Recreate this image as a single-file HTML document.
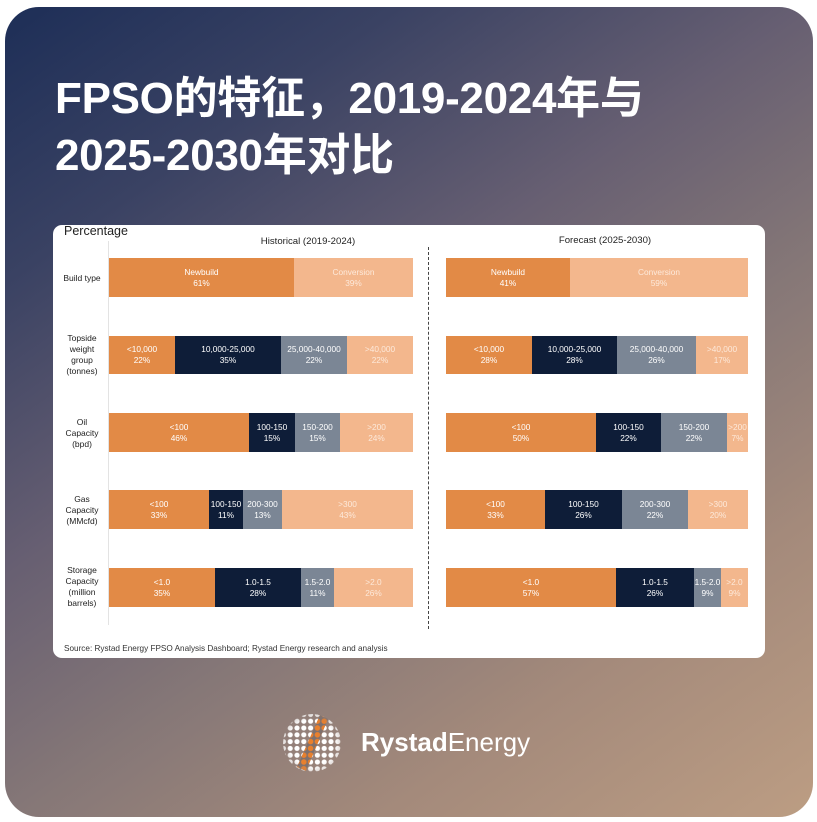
<!DOCTYPE html>
<html>
<head>
<meta charset="utf-8">
<style>
*{margin:0;padding:0;box-sizing:border-box;}
html,body{width:817px;height:822px;overflow:hidden;background:#fff;}
body{position:relative;font-family:"Liberation Sans","Noto Sans CJK SC",sans-serif;}
.card{position:absolute;left:5px;top:7px;width:808px;height:810px;border-radius:34px;
background:linear-gradient(145deg,#1D2E57 0%,#3a4263 20%,#675f72 41%,#857777 59%,#a48a7b 78%,#BC9D83 100%);}
.title{position:absolute;left:55px;top:70px;color:#fff;font-size:44px;line-height:57px;font-weight:bold;
font-family:"Liberation Sans","Noto Sans CJK SC",sans-serif;white-space:nowrap;letter-spacing:-0.3px;}
.panel{position:absolute;left:53px;top:225px;width:712px;height:433px;background:#fff;border-radius:9px;}
.abs{position:absolute;}
.seg{position:absolute;display:flex;flex-direction:column;justify-content:center;align-items:center;
color:#fff;font-size:8.3px;line-height:11px;white-space:nowrap;overflow:visible;}
.o{background:#E28A46;}
.n{background:#0E1D38;}
.g{background:#7B8695;}
.p{background:#F3B78D;color:#fde9da;}
.rl{position:absolute;left:56px;width:52px;display:flex;flex-direction:column;align-items:center;justify-content:center;
font-size:8.5px;line-height:11px;color:#222;text-align:center;white-space:nowrap;}
</style>
</head>
<body>
<div class="card"></div>
<div class="title">FPSO的特征，2019-2024年与<br>2025-2030年对比</div>

<div class="panel"></div>
<div class="abs" style="left:64px;top:223px;font-size:12.5px;line-height:16px;color:#222;">Percentage</div>
<div class="abs" style="left:208px;width:200px;top:236px;font-size:9.6px;line-height:12px;color:#222;text-align:center;">Historical (2019-2024)</div>
<div class="abs" style="left:505px;width:200px;top:235px;font-size:9.6px;line-height:12px;color:#222;text-align:center;">Forecast (2025-2030)</div>

<div class="abs" style="left:108px;top:241px;width:1px;height:384px;background:#e3e3e3;"></div>
<div class="abs" style="left:428px;top:247px;width:0;height:382px;border-left:1.5px dashed #444;"></div>

<!-- Row labels -->
<div class="rl" style="top:268px;height:20px;">Build type</div>
<div class="rl" style="top:332px;height:46px;">Topside<br>weight<br>group<br>(tonnes)</div>
<div class="rl" style="top:416px;height:34px;">Oil<br>Capacity<br>(bpd)</div>
<div class="rl" style="top:493px;height:34px;">Gas<br>Capacity<br>(MMcfd)</div>
<div class="rl" style="top:565px;height:44px;">Storage<br>Capacity<br>(million<br>barrels)</div>

<!-- Left bars -->
<div class="seg o" style="left:109px;top:258px;width:185px;height:39px;"><span>Newbuild</span><span>61%</span></div>
<div class="seg p" style="left:294px;top:258px;width:119px;height:39px;"><span>Conversion</span><span>39%</span></div>

<div class="seg o" style="left:109px;top:336px;width:66px;height:38px;"><span>&lt;10,000</span><span>22%</span></div>
<div class="seg n" style="left:175px;top:336px;width:106px;height:38px;"><span>10,000-25,000</span><span>35%</span></div>
<div class="seg g" style="left:281px;top:336px;width:66px;height:38px;"><span>25,000-40,000</span><span>22%</span></div>
<div class="seg p" style="left:347px;top:336px;width:66px;height:38px;"><span>&gt;40,000</span><span>22%</span></div>

<div class="seg o" style="left:109px;top:413px;width:140px;height:39px;"><span>&lt;100</span><span>46%</span></div>
<div class="seg n" style="left:249px;top:413px;width:46px;height:39px;"><span>100-150</span><span>15%</span></div>
<div class="seg g" style="left:295px;top:413px;width:45px;height:39px;"><span>150-200</span><span>15%</span></div>
<div class="seg p" style="left:340px;top:413px;width:73px;height:39px;"><span>&gt;200</span><span>24%</span></div>

<div class="seg o" style="left:109px;top:490px;width:100px;height:39px;"><span>&lt;100</span><span>33%</span></div>
<div class="seg n" style="left:209px;top:490px;width:34px;height:39px;"><span>100-150</span><span>11%</span></div>
<div class="seg g" style="left:243px;top:490px;width:39px;height:39px;"><span>200-300</span><span>13%</span></div>
<div class="seg p" style="left:282px;top:490px;width:131px;height:39px;"><span>&gt;300</span><span>43%</span></div>

<div class="seg o" style="left:109px;top:568px;width:106px;height:39px;"><span>&lt;1.0</span><span>35%</span></div>
<div class="seg n" style="left:215px;top:568px;width:86px;height:39px;"><span>1.0-1.5</span><span>28%</span></div>
<div class="seg g" style="left:301px;top:568px;width:33px;height:39px;"><span>1.5-2.0</span><span>11%</span></div>
<div class="seg p" style="left:334px;top:568px;width:79px;height:39px;"><span>&gt;2.0</span><span>26%</span></div>

<!-- Right bars -->
<div class="seg o" style="left:446px;top:258px;width:124px;height:39px;"><span>Newbuild</span><span>41%</span></div>
<div class="seg p" style="left:570px;top:258px;width:178px;height:39px;"><span>Conversion</span><span>59%</span></div>

<div class="seg o" style="left:446px;top:336px;width:86px;height:38px;"><span>&lt;10,000</span><span>28%</span></div>
<div class="seg n" style="left:532px;top:336px;width:85px;height:38px;"><span>10,000-25,000</span><span>28%</span></div>
<div class="seg g" style="left:617px;top:336px;width:79px;height:38px;"><span>25,000-40,000</span><span>26%</span></div>
<div class="seg p" style="left:696px;top:336px;width:52px;height:38px;"><span>&gt;40,000</span><span>17%</span></div>

<div class="seg o" style="left:446px;top:413px;width:150px;height:39px;"><span>&lt;100</span><span>50%</span></div>
<div class="seg n" style="left:596px;top:413px;width:65px;height:39px;"><span>100-150</span><span>22%</span></div>
<div class="seg g" style="left:661px;top:413px;width:66px;height:39px;"><span>150-200</span><span>22%</span></div>
<div class="seg p" style="left:727px;top:413px;width:21px;height:39px;"><span>&gt;200</span><span>7%</span></div>

<div class="seg o" style="left:446px;top:490px;width:99px;height:39px;"><span>&lt;100</span><span>33%</span></div>
<div class="seg n" style="left:545px;top:490px;width:77px;height:39px;"><span>100-150</span><span>26%</span></div>
<div class="seg g" style="left:622px;top:490px;width:66px;height:39px;"><span>200-300</span><span>22%</span></div>
<div class="seg p" style="left:688px;top:490px;width:60px;height:39px;"><span>&gt;300</span><span>20%</span></div>

<div class="seg o" style="left:446px;top:568px;width:170px;height:39px;"><span>&lt;1.0</span><span>57%</span></div>
<div class="seg n" style="left:616px;top:568px;width:78px;height:39px;"><span>1.0-1.5</span><span>26%</span></div>
<div class="seg g" style="left:694px;top:568px;width:27px;height:39px;"><span>1.5-2.0</span><span>9%</span></div>
<div class="seg p" style="left:721px;top:568px;width:27px;height:39px;"><span>&gt;2.0</span><span>9%</span></div>

<div class="abs" style="left:64px;top:643px;font-size:8.2px;line-height:11px;color:#333;white-space:nowrap;">Source: Rystad Energy FPSO Analysis Dashboard; Rystad Energy research and analysis</div>

<!-- Logo -->
<svg class="abs" style="left:280px;top:711px;" width="66" height="66" viewBox="0 0 66 66">
  <defs>
    <pattern id="dw" x="0" y="0" width="6.8" height="6.8" patternUnits="userSpaceOnUse">
      <circle cx="3.4" cy="3.4" r="2.6" fill="#fff"/>
    </pattern>
    <pattern id="do" x="0" y="0" width="6.8" height="6.8" patternUnits="userSpaceOnUse">
      <circle cx="3.4" cy="3.4" r="2.8" fill="#E8802E"/>
    </pattern>
    <clipPath id="cc"><circle cx="32" cy="32" r="29"/></clipPath>
    <radialGradient id="rg" cx="32" cy="32" r="29" gradientUnits="userSpaceOnUse">
      <stop offset="0" stop-color="#fff" stop-opacity="1"/>
      <stop offset="0.8" stop-color="#fff" stop-opacity="1"/>
      <stop offset="1" stop-color="#fff" stop-opacity="0.7"/>
    </radialGradient>
    <mask id="mk"><circle cx="32" cy="32" r="29" fill="url(#rg)"/></mask>
  </defs>
  <g clip-path="url(#cc)" mask="url(#mk)">
    <rect x="0" y="0" width="66" height="66" fill="url(#dw)"/>
    <polygon points="40,4 48,8 26,60 17,56" fill="#7e706d"/>
    <polygon points="40,4 48,8 26,60 17,56" fill="url(#do)"/>
  </g>
</svg>
<div class="abs" style="left:361px;top:727px;font-size:26px;line-height:30px;color:#fff;white-space:nowrap;"><b>Rystad</b>Energy</div>
</body>
</html>
